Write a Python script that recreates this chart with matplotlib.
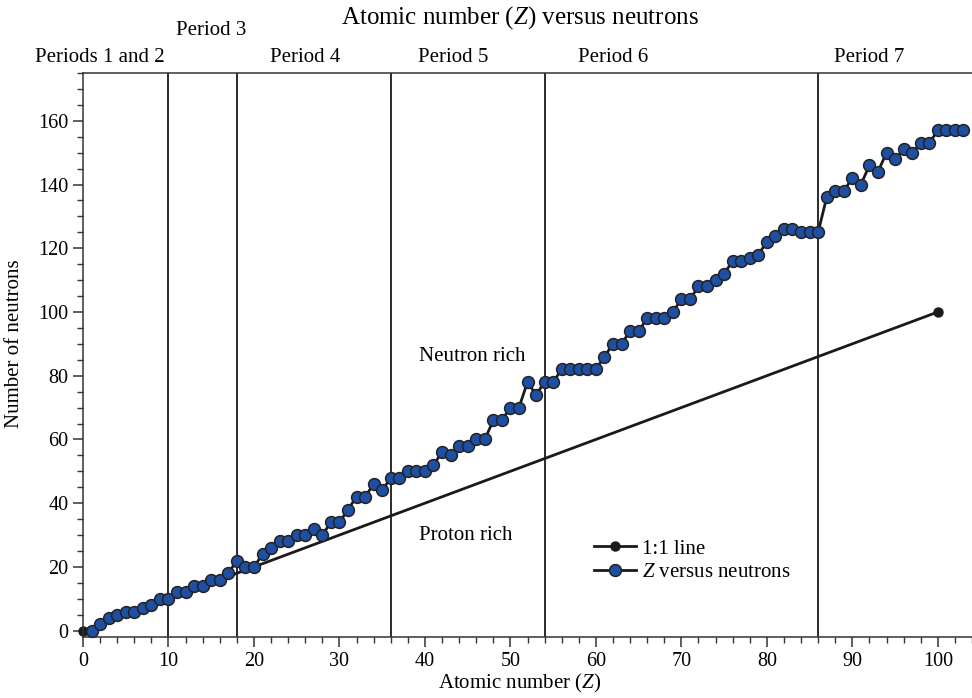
import matplotlib
matplotlib.use("Agg")
import matplotlib.pyplot as plt
from matplotlib.ticker import MultipleLocator

plt.rcParams['font.family'] = ['Liberation Serif', 'DejaVu Serif']
plt.rcParams['mathtext.fontset'] = 'custom'
plt.rcParams['mathtext.rm'] = 'Liberation Serif'
plt.rcParams['mathtext.it'] = 'Liberation Serif:italic'

# Data
atomic_number = list(range(1, 104))
neutrons = [0, 2, 4, 5, 6, 6, 7, 8, 10, 10,
            12, 12, 14, 14, 16, 16, 18, 22, 20, 20,
            24, 26, 28, 28, 30, 30, 32, 30, 34, 34,
            38, 42, 42, 46, 44, 48, 48, 50, 50, 50,
            52, 56, 55, 58, 58, 60, 60, 66, 66, 70,
            70, 78, 74, 78, 78, 82, 82, 82, 82, 82,
            86, 90, 90, 94, 94, 98, 98, 98, 100, 104,
            104, 108, 108, 110, 112, 116, 116, 117, 118, 122,
            124, 126, 126, 125, 125, 125, 136, 138, 138, 142,
            140, 146, 144, 150, 148, 151, 150, 153, 153, 157,
            157, 157, 157]
one_to_one_x = [0, 100]
one_to_one_y = [0, 100]
period_boundaries = [10, 18, 36, 54, 86]
period_labels = ["Periods 1 and 2", "Period 3", "Period 4", "Period 5", "Period 6", "Period 7"]
period_label_x = [2.0, 15.0, 26.0, 43.3, 62.0, 92.0]

fig = plt.figure(figsize=(9.72, 6.98), dpi=100)
ax = fig.add_axes([0.0854, 0.0874, 0.9146, 0.808])

for b in period_boundaries:
    ax.axvline(b, color='#1a1a1a', lw=1.3, zorder=1)

ax.plot(one_to_one_x, one_to_one_y, color='#1a1a1a', lw=2, marker='o',
        markersize=6.5, markerfacecolor='#1a1a1a', markeredgecolor='#1a1a1a',
        label='1:1 line', zorder=2, clip_on=False)
ax.plot(atomic_number, neutrons, color='#1a1a1a', lw=2, marker='o',
        markersize=8.5, markerfacecolor='#1f4fa3', markeredgecolor='#222222',
        markeredgewidth=1.1, label=r'$Z$ versus neutrons', zorder=3, clip_on=False)

ax.set_xlim(0, 104)
ax.set_ylim(-2, 175)
ax.xaxis.set_major_locator(MultipleLocator(10))
ax.xaxis.set_minor_locator(MultipleLocator(2))
ax.yaxis.set_major_locator(MultipleLocator(20))
ax.yaxis.set_minor_locator(MultipleLocator(5))
ax.tick_params(which='major', direction='out', length=7, width=1.1, labelsize=14.5, color='#333333')
ax.tick_params(which='minor', direction='out', length=4, width=1.0, color='#333333')
ax.spines['right'].set_visible(False)
for s in ['left', 'bottom', 'top']:
    ax.spines[s].set_linewidth(1.1)
    ax.spines[s].set_color('#333333')

ax.set_xlabel(r'Atomic number ($Z$)', fontsize=15)
ax.xaxis.set_label_coords(0.4916, -0.062)
ax.set_ylabel('Number of neutrons', fontsize=15)
ax.yaxis.set_label_coords(-0.066, 0.52)

trans = ax.get_xaxis_transform()
for lbl, xx in zip(period_labels, period_label_x):
    yy = 1.0745 if lbl == "Period 3" else 1.028
    ax.text(xx, yy, lbl, transform=trans, ha='center', va='center', fontsize=15)
ax.text(51.1, 1.0975, r'Atomic number ($Z$) versus neutrons', transform=trans,
        ha='center', va='center', fontsize=18)

ax.text(45.5, 86, 'Neutron rich', ha='center', va='center', fontsize=15)
ax.text(44.8, 30, 'Proton rich', ha='center', va='center', fontsize=15)

ax.legend(loc='upper left', bbox_to_anchor=(58.6, 32), bbox_transform=ax.transData,
          frameon=False, fontsize=15, handlelength=2.0, handletextpad=0.3,
          labelspacing=0.2, borderpad=0)

fig.savefig('out.png', dpi=100)
